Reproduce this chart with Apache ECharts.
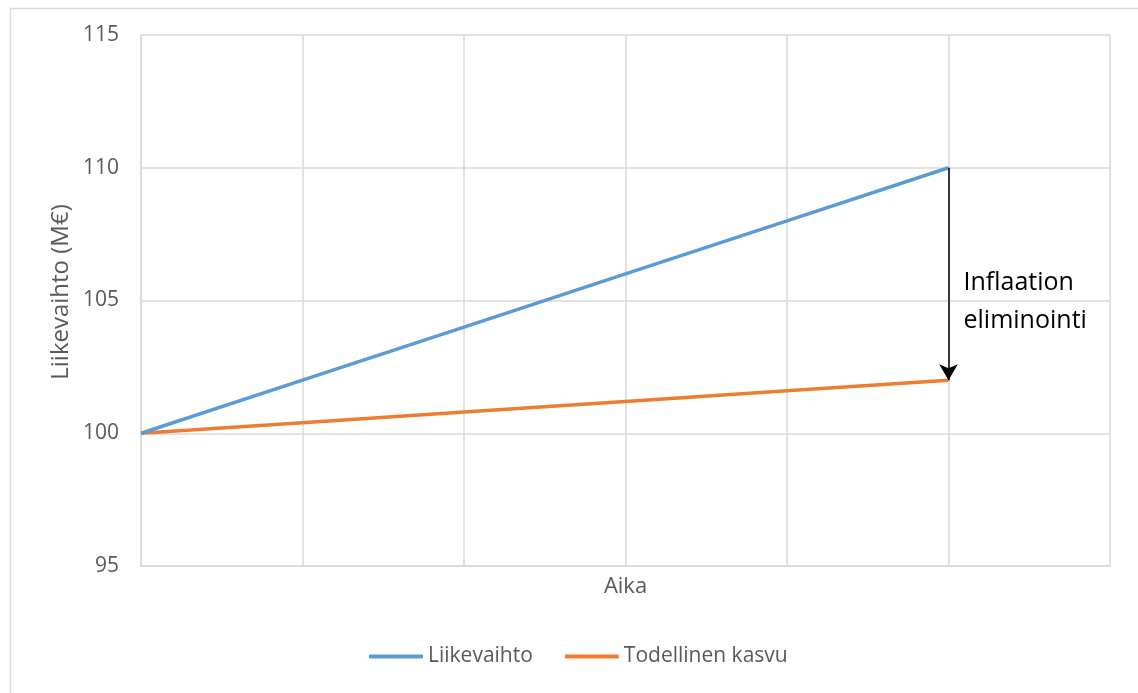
<!DOCTYPE html>
<html>
<head>
<meta charset="utf-8">
<script src="https://cdn.jsdelivr.net/npm/echarts@6/dist/echarts.min.js"></script>
<style>
html,body{margin:0;padding:0;background:#fff;}
#c{width:1138px;height:693px;}
</style>
</head>
<body>
<div id="c"></div>
<script>
const timePoints = [0, 1, 2, 3, 4, 5];
const liikevaihto = [100, 102, 104, 106, 108, 110];
const todellinenKasvu = [100, 100.4, 100.8, 101.2, 101.6, 102];
const yTicks = [95, 100, 105, 110, 115];
const yAxisTitle = 'Liikevaihto (M€)';
const xAxisTitle = 'Aika';
const annotationText = 'Inflaation\neliminointi';

const FONT = '"Open Sans", sans-serif';
const chart = echarts.init(document.getElementById('c'));
const pair = (xs, ys) => xs.map((x, i) => [x, ys[i]]);

chart.setOption({
  animation: false,
  backgroundColor: '#fff',
  textStyle: { fontFamily: FONT },
  grid: { left: 141, top: 35, width: 969, height: 531, containLabel: false },
  xAxis: {
    type: 'value', min: 0, max: 6, interval: 1,
    name: xAxisTitle, nameLocation: 'middle', nameGap: 10,
    nameTextStyle: { fontSize: 22, color: '#595959', fontFamily: FONT },
    axisLine: { show: true, lineStyle: { color: '#d9d9d9', width: 1.5 } },
    axisTick: { show: false },
    axisLabel: { show: false },
    splitLine: { show: true, lineStyle: { color: '#d9d9d9', width: 1.5 } }
  },
  yAxis: {
    type: 'value', min: yTicks[0], max: yTicks[yTicks.length - 1], interval: 5,
    axisLine: { show: true, lineStyle: { color: '#d9d9d9', width: 1.5 } },
    axisTick: { show: false },
    axisLabel: { fontSize: 21, color: '#595959', margin: 22, fontFamily: FONT },
    splitLine: { show: true, lineStyle: { color: '#d9d9d9', width: 1.5 } }
  },
  legend: {
    bottom: 21, left: 364, itemGap: 32, itemWidth: 54, itemHeight: 4,
    icon: 'roundRect',
    textStyle: { fontSize: 21, color: '#595959', fontFamily: FONT },
    data: ['Liikevaihto', 'Todellinen kasvu']
  },
  series: [
    {
      name: 'Liikevaihto', type: 'line', data: pair(timePoints, liikevaihto),
      symbol: 'none', lineStyle: { color: '#5b9bd5', width: 3.5 }, itemStyle: { color: '#5b9bd5' },
      markLine: {
        silent: true, symbol: ['none', 'arrow'], symbolSize: [14, 16],
        label: { show: false },
        lineStyle: { color: '#000', width: 1.5, type: 'solid' },
        data: [[
          { coord: [timePoints[5], liikevaihto[5]] },
          { coord: [timePoints[5], todellinenKasvu[5]] }
        ]]
      },
      z: 3
    },
    {
      name: 'Todellinen kasvu', type: 'line', data: pair(timePoints, todellinenKasvu),
      symbol: 'none', lineStyle: { color: '#ed7d31', width: 3.5 }, itemStyle: { color: '#ed7d31' },
      z: 2
    }
  ]
});

const p = chart.convertToPixel({ gridIndex: 0 }, [timePoints[5], (liikevaihto[5] + todellinenKasvu[5]) / 2]);
chart.setOption({
  graphic: [
    {
      type: 'rect', left: 8, top: 6, silent: true,
      shape: { width: 1140, height: 700 },
      style: { fill: 'none', stroke: '#d9d9d9', lineWidth: 1.5 }, z: -1
    },
    {
      type: 'text', x: 61, y: 292, rotation: Math.PI / 2, silent: true,
      style: { text: yAxisTitle, fontSize: 24, fill: '#595959', fontFamily: FONT, align: 'center', verticalAlign: 'middle' }
    },
    {
      type: 'text', x: p[0] + 15, y: p[1] + 28, silent: true,
      style: { text: annotationText, fontSize: 25, lineHeight: 38, fill: '#000', fontFamily: FONT, verticalAlign: 'middle' }
    }
  ]
});
</script>
</body>
</html>
